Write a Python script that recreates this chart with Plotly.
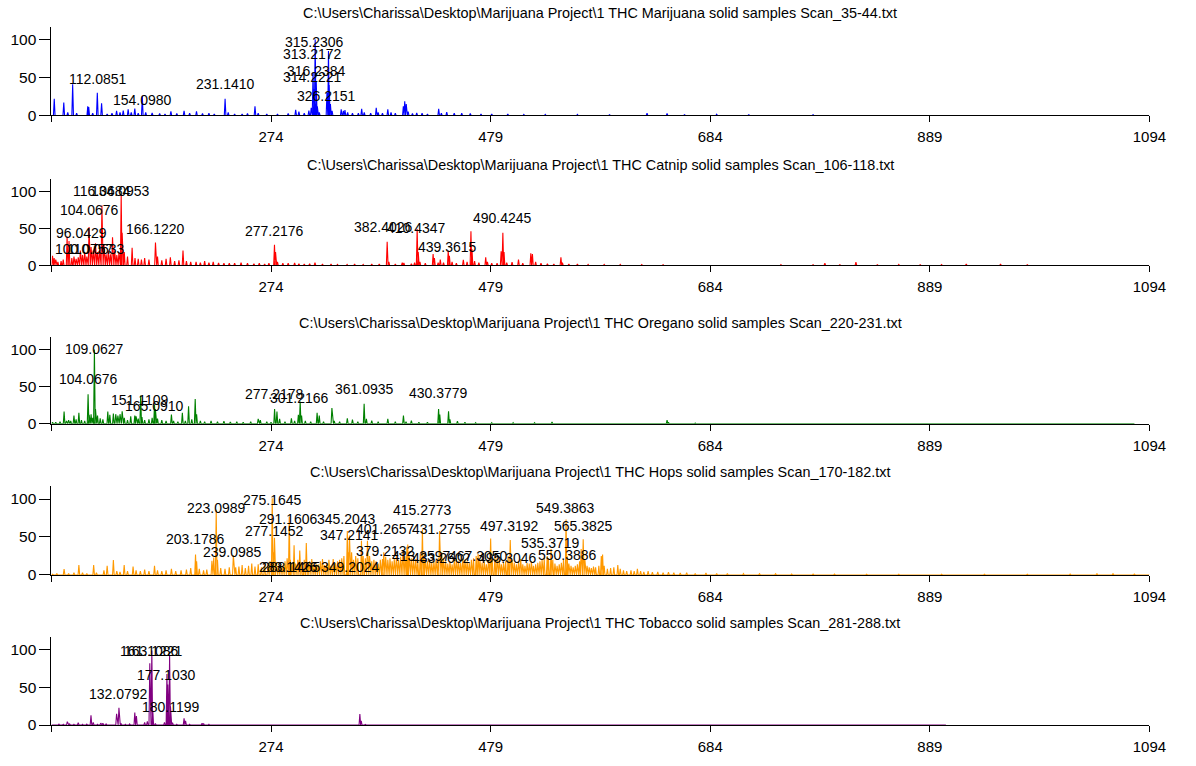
import plotly.graph_objects as go

# ---------------- data ----------------
x_tick_vals = [69, 274, 479, 684, 889, 1094]
x_tick_text = ["", "274", "479", "684", "889", "1094"]
y_tick_vals = [0, 50, 100]

titles = [
    "C:\\Users\\Charissa\\Desktop\\Marijuana Project\\1 THC Marijuana solid samples Scan_35-44.txt",
    "C:\\Users\\Charissa\\Desktop\\Marijuana Project\\1 THC Catnip solid samples Scan_106-118.txt",
    "C:\\Users\\Charissa\\Desktop\\Marijuana Project\\1 THC Oregano solid samples Scan_220-231.txt",
    "C:\\Users\\Charissa\\Desktop\\Marijuana Project\\1 THC Hops solid samples Scan_170-182.txt",
    "C:\\Users\\Charissa\\Desktop\\Marijuana Project\\1 THC Tobacco solid samples Scan_281-288.txt",
]
colors = ["#0000FF", "#FF0000", "#008000", "#FF9900", "#800080"]
scan_end = [1094, 1094, 1080, 1094, 904]

# Marijuana
marijuana_mz = [71.6, 80.5, 84.2, 88.8, 92.5, 102.9, 103.8, 107.5, 111.8, 115.8, 121, 125.5, 129.8, 133, 136,
                140.6, 143.5, 146.8, 150, 153.8, 157, 163, 170, 175, 180.5, 186, 192.8, 198, 204.4, 210, 216,
                221, 231.1, 234, 240, 247, 252, 259, 262, 270, 280, 290, 297, 300, 305, 309.3, 311.5, 313.2,
                314.2, 315.2, 316.2, 317.2, 319, 326.2, 327.6, 328.3, 329.4, 331, 339.5, 341.5, 343, 345.5,
                350, 355.5, 358.6, 361, 367, 372.2, 374, 378, 383, 386, 390, 397.5, 398.8, 400.2, 402, 406,
                410, 415, 420, 430.5, 433, 438, 445, 452, 460, 470, 480, 495, 510, 530, 560, 590, 625, 643.7,
                660, 690, 720, 780, 850, 920, 1000, 1080]
marijuana_int = [22, 17, 4, 41, 3, 12, 11, 3, 30, 16, 2, 3, 6, 4, 6.5,
                 8, 4, 9, 3, 26, 4, 3.5, 2.5, 2, 5.6, 2.5, 6, 3, 5.6, 2.5, 3,
                 2, 22, 4, 2, 2, 2.5, 12, 3, 2, 2, 2.5, 7.4, 5, 3, 6.5, 10, 57,
                 35, 100, 45, 12, 4, 30, 85, 40, 15, 6, 8, 6, 7, 4,
                 3, 3, 8.7, 4, 3, 10, 4, 3, 8, 4, 3, 12, 18.7, 15, 5, 2.5,
                 3.5, 3, 2, 8.7, 3, 4.3, 3, 3, 2.6, 2, 2, 2, 1.5, 1.5, 1.5, 1, 3, 2.6,
                 1, 1.7, 1, 1, 0.8, 0.8, 0.7, 0.6]
marijuana_label_text = ["112.0851", "154.0980", "231.1410", "315.2306", "313.2172", "316.2384", "314.2221", "326.2151"]
marijuana_label_mz = [112.07, 153.8, 231.4, 314.8, 312.7, 316.1, 312.4, 325.6]
marijuana_label_int = [48.7, 20.9, 40.9, 97.4, 80.4, 58.7, 50.9, 25.7]

# Catnip
catnip_mz = [70, 71.5, 73, 75, 78, 80, 83.6, 85.4, 88, 90, 92, 94, 96, 98, 100, 102, 104.1, 106, 108, 110.1,
             112, 114, 116.1, 118, 120, 122, 124, 126, 128, 130, 132, 134.1, 135, 137, 140, 144.3, 147, 150,
             153, 156, 160, 166.1, 168, 172, 176, 180, 184, 188, 191.8, 195, 199, 204, 208, 212, 216, 220,
             225, 230, 235, 240, 246, 252, 258, 263, 268, 272, 277.2, 278.2, 280, 285, 290, 296, 300, 305,
             310, 315, 322, 330, 336, 345, 352, 360, 368, 375, 382.4, 384, 390, 396.5, 398, 405, 408, 410.4,
             411.4, 413, 418, 425.3, 426.5, 430, 432, 435, 439.4, 440.5, 443, 447, 453.5, 457, 460.6, 461.6,
             464, 468, 474.4, 476, 480, 485, 488.8, 490.4, 491.5, 494, 499, 505, 509, 516.5, 518, 521, 526,
             532, 538, 544.6, 546, 552, 560, 570, 585, 600, 620, 640, 665, 690, 720, 750, 780, 791, 805, 820,
             840, 860, 880, 900, 923, 940, 955, 980, 1010, 1040, 1070]
catnip_int = [13, 10, 8, 5, 6, 8, 39, 33, 10, 12, 9, 11, 20, 14, 18, 12, 52, 25, 20, 30,
              18, 22, 81, 28, 15, 20, 15, 38, 20, 14, 18, 96, 44, 18, 12, 24, 10, 9,
              8, 10, 8, 31, 12, 7, 9, 11, 6, 7, 20, 6, 5, 5, 4, 6, 4, 5,
              3.5, 3, 3, 3, 4, 3, 2.5, 3, 2, 3, 28, 18, 5, 3, 3, 3.5, 2.5, 2,
              2.5, 4, 2, 2, 1.5, 1.5, 2, 1.5, 2, 2, 32, 5, 2, 4, 3.5, 2.5, 4, 49,
              18, 5, 3, 15.5, 10, 4, 8, 4, 20, 13, 5, 3, 7.5, 5, 46, 22,
              6, 4, 11, 5, 3, 3, 19, 44, 18, 4, 4.4, 8, 3, 16.5, 15.5, 5, 3,
              2.5, 2, 11, 4, 2, 2, 1.5, 1.5, 1.5, 1.2, 1, 1, 1, 1, 1.2, 1, 3, 1, 4.4,
              1, 1.5, 1, 1.2, 2, 1, 2, 1, 1, 1, 0.8]
catnip_label_text = ["116.0684", "134.0953", "104.0676", "96.0429", "100.0757", "110.0633", "166.1220",
                     "277.2176", "382.4026", "410.4347", "439.3615", "490.4245"]
catnip_label_mz = [116.0, 133.7, 104.1, 96.7, 99.7, 110.2, 166.1, 277.0, 378.7, 410.0, 438.8, 490.0]
catnip_label_int = [100.9, 100.9, 74.7, 44.4, 22.2, 22.2, 49.8, 46.7, 52.0, 50.2, 25.3, 64.4]

# Oregano
oregano_mz = [70, 73, 77, 80.8, 83, 85, 87, 90, 92, 94.6, 97, 100, 103.2, 104.2, 106, 107.5, 109.1, 110.1,
              112, 114.5, 117, 121.6, 123.5, 126.8, 129, 131, 133, 135, 137, 140, 143, 146.8, 148, 150, 152.3,
              153.5, 156, 160, 163, 165.2, 166, 168, 172, 176, 181, 183, 187, 191.2, 194, 197, 200, 203.2,
              204.5, 208, 212, 218, 224, 230, 236, 242, 248, 255, 262, 264, 270, 274, 277.3, 279.5, 282, 287,
              293, 296, 299.5, 301.2, 302.5, 306, 311, 317, 319, 323, 330.8, 333, 338, 345.2, 350, 355, 360.9,
              363, 368, 374, 383, 390, 397.6, 400, 405, 412, 420, 430.4, 431.5, 439.7, 441, 448, 455, 465, 480,
              500, 520, 536.3, 550, 580, 610, 643.7, 645, 670, 700, 740, 800, 860, 930, 1000, 1075]
oregano_int = [2, 2, 3, 16.4, 4, 5, 4, 11, 6, 14.7, 5, 4, 40, 12, 13, 8, 100, 20,
               11, 7.5, 6, 16.4, 12, 14, 13, 11, 13, 17, 8, 5, 10, 11, 10, 7, 38,
               9, 5, 6, 8, 26, 20, 7, 5, 4, 12.4, 4, 3, 14.7, 4, 23.5, 6, 33.3,
               13, 4, 3, 4, 3, 3.5, 2.5, 3, 2, 3, 6.7, 5, 3, 2, 20, 16.4, 6.7, 3,
               7.5, 4, 12, 30, 11, 4, 3, 14.7, 11, 3, 21.3, 4, 3, 7.5, 5.8, 3, 27,
               6.7, 4.4, 3, 6.7, 3, 11, 3, 4.4, 2, 2, 20, 12.4, 17, 6, 3.5, 2, 1.5, 1.5,
               1.5, 1.5, 2.6, 1, 1, 1, 5, 2, 1, 1, 0.8, 0.8, 0.8, 0.8, 0.6, 0.6]
oregano_label_text = ["109.0627", "104.0676", "151.1109", "165.0910", "277.2178", "301.2166", "361.0935", "430.3779"]
oregano_label_mz = [109.0, 103.8, 151.4, 165.2, 277.1, 300.7, 360.8, 429.9]
oregano_label_int = [100.9, 60.0, 32.4, 23.6, 40.0, 34.7, 47.6, 40.9]

# Hops
hops_mz = [70, 74, 80.8, 85, 90, 94.6, 98, 102, 108.4, 111, 118, 121, 126.8, 130, 133, 136.9, 140, 145.2, 148,
           152, 156, 160, 165.2, 168, 172, 176, 181, 185, 190, 195, 199, 203.5, 204.5, 207, 211, 214, 218.8,
           220.5, 222.8, 224, 227, 231, 235, 238.8, 241, 244, 247, 250, 253, 256, 259, 262, 265, 268, 271,
           273, 275.1, 276.2, 277.2, 279, 281, 283, 285, 287, 289, 291.0, 292, 293.5, 295.5, 297, 299, 300.8,
           302.5, 305, 306.9, 308.5, 310, 312, 314, 316, 318, 320, 322, 324, 326, 328, 330, 332, 334, 336,
           338, 340, 342, 345.2, 346, 347.2, 349.2, 351, 353, 355, 358.4, 360, 362, 364, 366, 368, 370, 372,
           374, 376, 378, 379.2, 381, 383, 385, 387, 389, 391, 393, 395, 397, 399, 400.8, 401.6, 403, 405,
           407, 409, 411, 413.3, 415.3, 416.5, 418, 420, 422, 424, 426, 428, 430, 431.3, 433.3, 435, 437,
           439, 441, 443, 445, 447, 449, 451, 453, 455, 457, 459, 461, 463, 465.5, 467.3, 469, 471, 473, 475,
           477, 479, 480.5, 483, 485, 487, 489, 491, 493, 495.3, 497.3, 499, 501, 503, 505, 507, 509, 511,
           513, 515, 517, 519, 521, 523, 525, 527, 529, 531.8, 533, 535.4, 537, 539, 541, 543, 545, 547,
           549.4, 550.4, 552, 554, 556, 558, 560, 562, 563.5, 565.4, 567, 569, 571, 573, 575, 577, 580,
           582.3, 583.5, 585, 588, 591, 594, 597.7, 600, 603, 606, 610, 613, 616, 619, 622, 626, 630, 635,
           640, 645, 650, 656, 662, 670, 680, 690, 700, 715, 730, 745, 760, 780, 800, 830, 860, 900, 940,
           980, 1020, 1045, 1060, 1080]
hops_int = [1, 2, 7.8, 2, 3, 13, 3, 2, 13, 3, 6, 12, 19.6, 5, 4, 13, 5, 11, 6,
            5, 7, 5, 12, 6, 5, 6, 8, 5, 6, 7, 9, 27, 18, 8, 6, 7, 18.7,
            23, 86, 20, 9, 8, 10, 26, 10, 11, 13, 9, 12, 15, 11, 14, 10, 16, 12,
            18, 101, 30, 49, 16.5, 10, 14, 12, 18, 22, 76.5, 20, 15, 39, 15, 20, 32,
            15, 20, 42, 15, 18, 21, 12, 15, 14, 18, 21, 13, 16, 20, 12, 21, 16, 18,
            20, 22, 25, 58, 30, 52, 30, 20, 25, 22, 45, 25, 22, 45, 25, 18, 20, 18,
            15, 20, 21, 30, 24, 20, 22, 18, 21, 25, 20, 24, 30, 25, 37, 40, 25, 22,
            20, 21, 18, 28, 60, 25, 21, 18, 20, 16, 18, 20, 22, 58, 30, 21, 18,
            15, 18, 14, 20, 21, 18, 16, 22, 20, 18, 16, 20, 22, 25, 28, 20, 16, 18, 14,
            20, 48, 20, 25, 22, 20, 14, 16, 18, 25, 46, 20, 16, 14, 18, 21, 14, 12,
            16, 15, 18, 12, 14, 16, 18, 20, 22, 25, 22, 34, 20, 15, 12, 14, 16, 20,
            73, 25, 15, 12, 10, 12, 14, 18, 34, 47, 20, 12, 10, 9, 11, 10, 12,
            25, 27, 12, 8, 9, 10, 13, 8, 6, 5, 6, 5, 8, 5, 4, 5, 3.5, 4,
            3, 3.5, 3, 2.5, 3, 2, 2.5, 2, 2, 1.8, 1.5, 1.5, 1.2, 1.2, 1.2, 1, 1, 1, 1,
            1, 1.2, 2, 1.5, 1.2]
hops_label_text = ["223.0989", "275.1645", "291.1606", "345.2043", "277.1452", "347.2141", "401.2657",
                   "415.2773", "431.2755", "203.1786", "239.0985", "283.1426", "288.1465", "349.2024",
                   "379.2132", "413.2597", "433.2602", "467.3050", "495.3046", "497.3192", "549.3863",
                   "565.3825", "535.3719", "550.3886"]
hops_label_mz = [222.8, 275.0, 290.6, 344.9, 277.4, 346.8, 381.3,
                 415.1, 433.3, 203.2, 238.2, 290.4, 293.3, 348.3,
                 380.5, 414.0, 433.5, 467.3, 494.9, 497.0, 549.2,
                 565.5, 535.1, 550.8]
hops_label_int = [88.3, 99.0, 74.0, 74.0, 57.8, 52.2, 60.0,
                  85.2, 60.9, 47.0, 30.4, 10.4, 10.4, 10.4,
                  31.7, 25.2, 21.7, 25.2, 21.7, 64.3, 88.3,
                  64.3, 41.7, 26.5]

# Tobacco
tobacco_mz = [72, 76, 80, 83.8, 86, 90, 94, 98, 102, 105.9, 108, 112, 115, 117, 120, 124, 129.8, 132.0, 134,
              138, 142, 146.8, 148.3, 152, 156, 158.5, 160.8, 162.7, 163.6, 166, 170, 174.5, 176.8, 177.6,
              179.3, 180.1, 182, 186, 192.8, 194.2, 198, 202, 209.6, 211, 216, 222, 230, 240, 260, 280, 300,
              320, 340, 356.9, 358.2, 362, 380, 420, 480, 550, 620, 700, 780, 860, 900]
tobacco_int = [1, 1.3, 1, 4.4, 1.5, 1, 3, 1, 1.2, 13, 3.5, 1, 2.6, 2.6, 1.5, 1, 15, 23, 2,
               1, 1.5, 16.7, 12, 1, 3.5, 5, 82, 99, 19, 2, 1, 3.5, 68, 54,
               92, 25, 3, 1, 8.8, 5.7, 1, 1, 2.6, 2, 1, 0.8, 0.8, 0.6, 0.6, 0.6, 0.6,
               0.6, 0.8, 14.5, 5.7, 0.8, 0.6, 0.5, 0.5, 0.5, 0.5, 0.5, 0.5, 0.5, 0.5]
tobacco_label_text = ["161.1086", "163.1221", "177.1030", "132.0792", "180.1199"]
tobacco_label_mz = [160.6, 164.2, 176.8, 132.0, 180.5]
tobacco_label_int = [98.7, 98.7, 66.2, 41.7, 24.6]

spectra = [
    (marijuana_mz, marijuana_int, marijuana_label_text, marijuana_label_mz, marijuana_label_int),
    (catnip_mz, catnip_int, catnip_label_text, catnip_label_mz, catnip_label_int),
    (oregano_mz, oregano_int, oregano_label_text, oregano_label_mz, oregano_label_int),
    (hops_mz, hops_int, hops_label_text, hops_label_mz, hops_label_int),
    (tobacco_mz, tobacco_int, tobacco_label_text, tobacco_label_mz, tobacco_label_int),
]

# ---------------- layout geometry (pixels) ----------------
W, H = 1196, 766
X_LEFT, X_RIGHT = 52.2, 1166.0
panel_y0 = [116.7, 268.3, 428.3, 581.0, 732.7]     # pixel row of intensity 0
panel_y100 = [40.0, 193.3, 353.3, 504.3, 656.7]    # pixel row of intensity 100
Y_MAX = 117
FONT = "Liberation Sans, Arial, Helvetica, sans-serif"


def profile(mz, inten, start, end, w=0.75):
    xs, ys = [start], [0]
    for m, h in sorted(zip(mz, inten)):
        xs += [m - w, m, m + w]
        ys += [0, h, 0]
    xs.append(end)
    ys.append(0)
    return xs, ys


fig = go.Figure()
annotations = []
for i, (mz, inten, ltxt, lmz, lint) in enumerate(spectra):
    k = i + 1
    xs, ys = profile(mz, inten, x_tick_vals[0], scan_end[i])
    fig.add_trace(go.Scatter(x=xs, y=ys, mode="lines", xaxis=f"x{k}", yaxis=f"y{k}",
                             line=dict(color=colors[i], width=1.1), hoverinfo="skip", showlegend=False))
    y0, y100 = panel_y0[i], panel_y100[i]
    top_px = y0 - (y0 - y100) * Y_MAX / 100.0
    dom_y = [1 - y0 / H, 1 - top_px / H]
    xa = dict(domain=[X_LEFT / W, X_RIGHT / W], range=[x_tick_vals[0], x_tick_vals[-1]], anchor=f"y{k}",
              tickmode="array", tickvals=x_tick_vals, ticktext=x_tick_text, ticks="outside", ticklen=6,
              tickwidth=1, tickcolor="#000000", showline=True, linecolor="#000000", linewidth=1,
              showgrid=False, zeroline=False, tickfont=dict(family=FONT, size=15, color="#000000"),
              ticklabelstandoff=2)
    ya = dict(domain=dom_y, range=[0, Y_MAX], anchor=f"x{k}", tickmode="array", tickvals=y_tick_vals,
              ticks="outside", ticklen=11, tickwidth=1, tickcolor="#000000", showline=True,
              linecolor="#000000", linewidth=1, showgrid=False, zeroline=False,
              tickfont=dict(family=FONT, size=15.5, color="#000000"))
    fig.update_layout({f"xaxis{'' if k == 1 else k}": xa, f"yaxis{'' if k == 1 else k}": ya})
    annotations.append(dict(text=titles[i], xref="paper", yref="paper", x=(X_LEFT + X_RIGHT) / 2 / W,
                            y=1 - (top_px - 14) / H, xanchor="center", yanchor="middle", showarrow=False,
                            font=dict(family=FONT, size=14.4, color="#000000")))
    for t, xm, yh in zip(ltxt, lmz, lint):
        annotations.append(dict(text=t, xref=f"x{k}", yref=f"y{k}", x=xm, y=yh, xanchor="center",
                                yanchor="middle", showarrow=False,
                                font=dict(family=FONT, size=14, color="#000000")))

fig.update_layout(width=W, height=H, margin=dict(l=0, r=0, t=0, b=0), paper_bgcolor="white",
                  plot_bgcolor="white", showlegend=False, annotations=annotations)

fig.write_html("out.html", config={"displayModeBar": False},
               post_script="document.body.style.margin='0';")
